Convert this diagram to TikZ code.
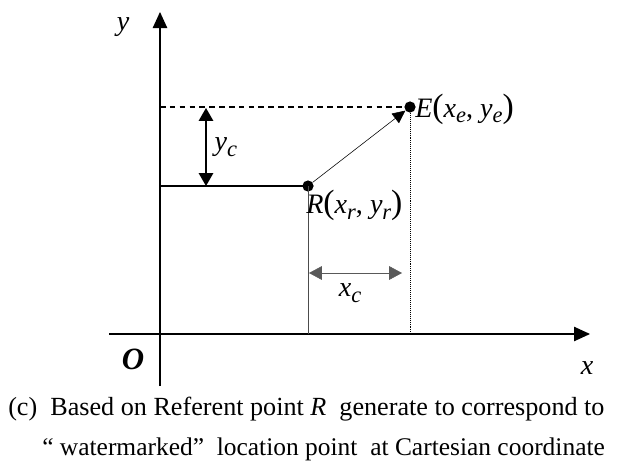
\documentclass[tikz,border=0pt]{standalone}
\usepackage{fontspec}
\setmainfont{Liberation Serif}
\usepackage{tikz}
\usetikzlibrary{arrows.meta, positioning, calc}
\newcommand{\lowsub}[1]{\raisebox{-0.45ex}{\fontsize{16}{18}\selectfont\itshape #1}}
\newcommand{\bigpar}[1]{{\fontsize{24}{24}\selectfont\upshape #1}}

\begin{document}
\begin{tikzpicture}[
    x=0.025cm, y=-0.025cm,
    axis/.style={thick, -{Triangle[length=4mm, width=3.6mm]}},
    dim/.style={thick, {Triangle[length=3.2mm, width=3.6mm]}-{Triangle[length=3.2mm, width=3.6mm]}},
    dimthin/.style={gray!70!black, {Triangle[length=3.2mm, width=3.4mm]}-{Triangle[length=3.2mm, width=3.4mm]}},
    lbl/.style={font=\fontsize{20}{22}\selectfont\itshape, inner sep=1pt},
    dot/.style={circle, fill, inner sep=0pt, minimum size=2.8mm},
    caption/.style={font=\fontsize{18.6}{20}\selectfont, inner sep=0pt, anchor=west}
]
\useasboundingbox (0,0) rectangle (630,473);
% axes
\coordinate (o)    at (160,334);
\coordinate (ytop) at (160,12);
\coordinate (ybot) at (160,386);
\coordinate (xl)   at (109,334);
\coordinate (xr)   at (590,334);
\draw[axis] (ybot) -- (ytop);
\draw[axis] (xl) -- (xr);
\node[lbl] (ylab) at (123,27) {y};
\node[lbl, font=\fontsize{22}{22}\selectfont\bfseries\itshape] (olab) at (133,359) {O};
\node[lbl] (xlab) at (587,368) {x};
% points
\node[dot] (R) at (308,186) {};
\node[dot] (E) at (410,107) {};
\coordinate (ry) at (160,186);
\coordinate (ey) at (160,107);
\coordinate (rx) at (308,334);
\coordinate (ex) at (410,334);
\draw[thick] (ry) -- (R.center);
\draw[thick, dash pattern=on 4pt off 3pt] (ey) -- (E.center);
\draw[gray!60!black] (R.center) -- (rx);
\draw[densely dotted] (E.center) -- (ex);
\draw[-{Triangle[length=3.2mm, width=3mm]}] (R) -- (E);
\node[lbl, anchor=west, inner sep=0pt] (elab) at (415,109) {E\bigpar{(}x\lowsub{e}{\upshape,} y\lowsub{e}\bigpar{)}};
\node[lbl, anchor=north west, inner sep=0pt] (rlab) at (306,190) {R\bigpar{(}x\lowsub{r}{\upshape,} y\lowsub{r}\bigpar{)}};
% offsets
\coordinate (yc1) at (206,108);
\coordinate (yc2) at (206,186);
\draw[dim] (yc1) -- (yc2);
\node[lbl, anchor=west] (yclab) at (213,147) {y\lowsub{c}};
\coordinate (xc1) at (309,273);
\coordinate (xc2) at (402,273);
\draw[dimthin] (xc1) -- (xc2);
\node[lbl] (xclab) at (350,293) {x\lowsub{c}};
% caption
\node[caption] (cap1) at (8,409) {(c)\ \ Based on Referent point \textit{R}\ \ generate to correspond to};
\node[caption, font=\fontsize{18.1}{20}\selectfont] (cap2) at (42,449) {\char"201C\ watermarked\char"201D\ \ location point\ \ at Cartesian coordinate};
\end{tikzpicture}
\end{document}
